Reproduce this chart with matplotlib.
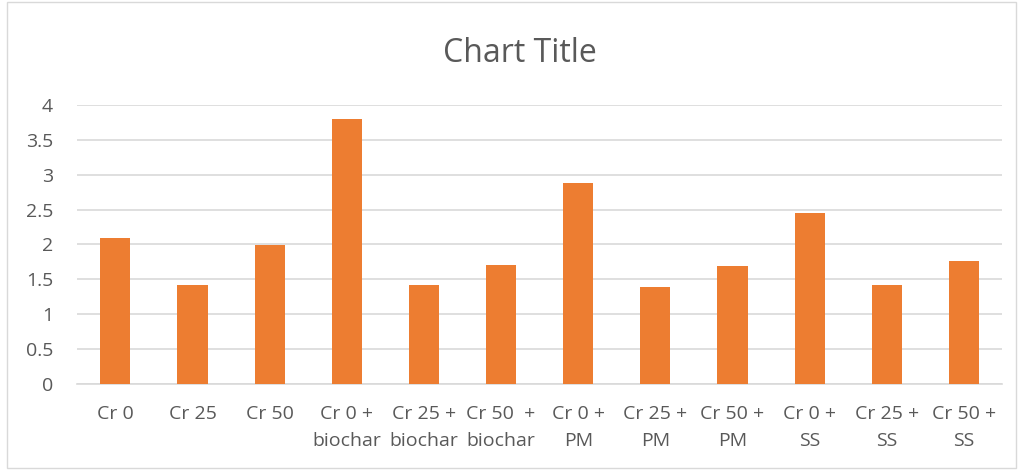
import matplotlib.pyplot as plt
from matplotlib.patches import Rectangle

categories = ["Cr 0", "Cr 25", "Cr 50", "Cr 0 +\nbiochar", "Cr 25 +\nbiochar",
              "Cr 50  +\nbiochar", "Cr 0 +\nPM", "Cr 25 +\nPM", "Cr 50 +\nPM",
              "Cr 0 +\nSS", "Cr 25 +\nSS", "Cr 50 +\nSS"]
values = [2.09, 1.42, 1.99, 3.80, 1.42, 1.71, 2.88, 1.39, 1.69, 2.45, 1.42, 1.76]
yticks = [0, 0.5, 1, 1.5, 2, 2.5, 3, 3.5, 4]

plt.rcParams['font.family'] = ['Open Sans', 'DejaVu Sans']
text_color = '#595959'

fig = plt.figure(figsize=(10.24, 4.70), dpi=100)
ax = fig.add_axes([0.075, 0.183, 0.904, 0.594])

x = range(len(categories))
ax.bar(x, values, width=0.39, color='#ED7D31', zorder=3)

ax.set_xlim(-0.5, len(categories) - 0.5)
ax.set_ylim(0, 4)
ax.set_yticks(yticks)
ax.set_yticklabels([f"{v:g}" for v in yticks])
ax.set_xticks(list(x))
ax.set_xticklabels(categories, linespacing=1.65)
ax.tick_params(axis='both', length=0, labelsize=14, colors=text_color)
ax.tick_params(axis='x', pad=15)
ax.tick_params(axis='y', pad=17)
ax.grid(axis='y', color='#D9D9D9', linewidth=1.2, zorder=0)
for s in ['top', 'right', 'left']:
    ax.spines[s].set_visible(False)
ax.spines['bottom'].set_color('#D9D9D9')
ax.spines['bottom'].set_linewidth(1.2)

fig.text(0.508, 0.887, "Chart Title", ha='center', va='center', fontsize=23, color=text_color)

fig.patches.append(Rectangle((0.007, 0.005), 0.985, 0.99, transform=fig.transFigure,
                             fill=False, edgecolor='#D9D9D9', linewidth=1))

fig.savefig("out.png", dpi=100)
